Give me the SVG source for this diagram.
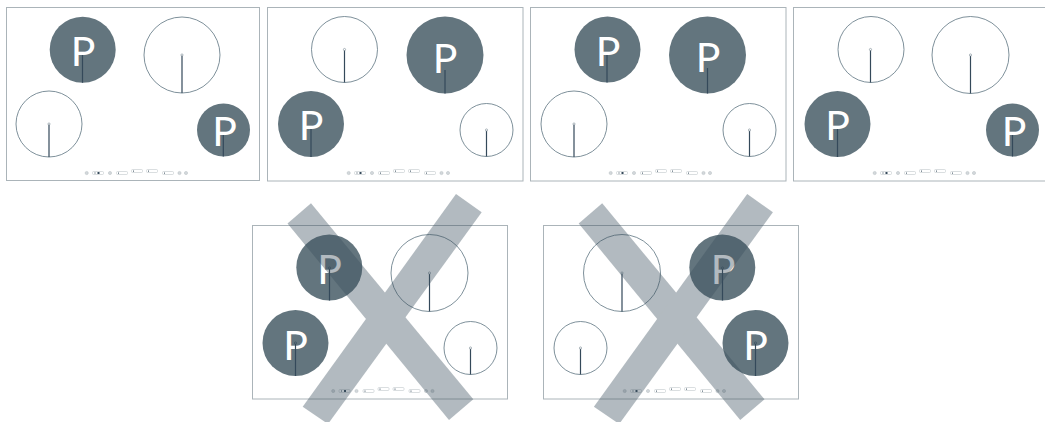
<svg xmlns="http://www.w3.org/2000/svg" xmlns:xlink="http://www.w3.org/1999/xlink" width="1045" height="422" viewBox="0 0 1045 422">
<style>
.frame{fill:#fff;stroke:#abb4b9;stroke-width:1}
.on{fill:#63757e}
.off{fill:#fff;stroke:#5d7480;stroke-width:.8}
.stem{stroke:#34495a;stroke-width:1.2;fill:none}
.hub{fill:#fff;stroke:#7a8a93;stroke-width:.6}
.hubd{fill:#63757e;stroke:#34495a;stroke-width:.6}
.p{fill:#fff;font-family:"Lato","Open Sans",sans-serif;font-weight:400;font-size:41px;text-anchor:middle}
.c{fill:#d3d8db;stroke:#b4bcc1;stroke-width:.5}
.s{fill:#fff;stroke:#b4bcc1;stroke-width:.5}
.d{fill:#34495a}
.x{fill:#3c505e}
</style>
<defs>
<g id="strip">
<circle class="c" cx="86.700" cy="173" r="1.600"/>
<rect class="s" x="92.500" y="171.500" width="11" height="3" rx="1"/><rect class="d" x="94.500" y="172.500" width="1" height="1"/><rect class="d" x="97.500" y="172" width="2" height="2"/>
<circle class="c" cx="110" cy="173" r="1.600"/>
<rect class="s" x="116.500" y="171.500" width="11" height="3" rx="1"/><rect class="d" x="118" y="172.600" width="1" height="1"/>
<rect class="s" x="131.500" y="169.500" width="11" height="3" rx="1"/><rect class="d" x="133" y="170.600" width="1" height="1"/>
<rect class="s" x="146.500" y="169.500" width="11" height="3" rx="1"/><rect class="d" x="148" y="170.600" width="1" height="1"/>
<rect class="s" x="162.500" y="171.500" width="11" height="3" rx="1"/><rect class="d" x="164" y="172.600" width="1" height="1"/>
<circle class="c" cx="179.500" cy="173" r="1.600"/><circle class="c" cx="186" cy="173" r="1.600"/>
</g>
<polygon id="xa" points="287.500,223.500 311,203.300 473.300,399.300 449,420"/>
<polygon id="xb" points="456,194 481.700,212.300 328,424 302.700,406.700"/>
</defs>

<g id="panel-1">
<rect class="frame" x="6.500" y="7.500" width="253" height="173"/>
<circle class="on" cx="82.700" cy="49.700" r="33"/>
<circle class="off" cx="182" cy="55" r="38"/>
<circle class="off" cx="49" cy="124" r="33"/>
<circle class="on" cx="223.500" cy="130" r="26.500"/>
<path class="stem" d="M82.500 54V82.700M182 55V93M49 124V157M223.300 133V156.500"/>
<circle class="hub" cx="182" cy="55" r="1.100"/><circle class="hub" cx="49" cy="124" r="1.100"/>
<text class="p" x="83" y="65.500">P</text><text class="p" x="224.500" y="146">P</text>
<use xlink:href="#strip"/>
</g>

<g id="panel-2">
<rect class="frame" x="267.500" y="7.500" width="255.500" height="173.500"/>
<circle class="off" cx="344.500" cy="49.500" r="33"/>
<circle class="on" cx="445" cy="55" r="38.500"/>
<circle class="on" cx="311" cy="124" r="33"/>
<circle class="off" cx="486.500" cy="130" r="26.500"/>
<path class="stem" d="M344.500 49.500V82.500M445 70V93.500M311 128V157M486.500 130V156.500"/>
<circle class="hub" cx="344.500" cy="49.500" r="1.100"/><circle class="hub" cx="486.500" cy="130" r="1.100"/>
<text class="p" x="445" y="73">P</text><text class="p" x="311" y="140">P</text>
<use xlink:href="#strip" x="262"/>
</g>

<g id="panel-3">
<rect class="frame" x="530.500" y="7.500" width="255.500" height="173.500"/>
<circle class="on" cx="607.500" cy="49.500" r="33"/>
<circle class="on" cx="707.500" cy="55" r="38.500"/>
<circle class="off" cx="574" cy="124" r="33"/>
<circle class="off" cx="749.500" cy="130" r="26.500"/>
<path class="stem" d="M607 54V82.500M707.500 68V93.500M574 124V157M749.500 130V156.500"/>
<circle class="hub" cx="574" cy="124" r="1.100"/><circle class="hub" cx="749.500" cy="130" r="1.100"/>
<text class="p" x="608" y="66">P</text><text class="p" x="708" y="72">P</text>
<use xlink:href="#strip" x="524"/>
</g>

<g id="panel-4">
<rect class="frame" x="793.500" y="7.500" width="255.500" height="173.500"/>
<circle class="off" cx="871" cy="49.500" r="33"/>
<circle class="off" cx="970.500" cy="55" r="38.500"/>
<circle class="on" cx="837.500" cy="124" r="33"/>
<circle class="on" cx="1012.500" cy="130" r="26.500"/>
<path class="stem" d="M870.500 49.500V82.500M970.500 55V93.500M837.500 128V157M1012.500 134V156.500"/>
<circle class="hub" cx="870.500" cy="49.500" r="1.100"/><circle class="hub" cx="970.500" cy="55" r="1.100"/>
<text class="p" x="837.500" y="140">P</text><text class="p" x="1014" y="146">P</text>
<use xlink:href="#strip" x="788"/>
</g>

<g id="panel-5">
<rect class="frame" x="252.500" y="225.500" width="255" height="173.500"/>
<circle class="on" cx="329.300" cy="267.500" r="33"/>
<circle class="off" cx="429.500" cy="273" r="38.500"/>
<circle class="on" cx="295.500" cy="343" r="33"/>
<circle class="off" cx="470.500" cy="348" r="26.500"/>
<text class="p" x="329.500" y="284">P</text><text class="p" x="295.500" y="360">P</text>
<path class="stem" d="M329.500 268V300.500M429.500 273V311.500M295.500 343V376M470.500 348V374.500"/>
<circle class="hubd" cx="329.500" cy="268" r="1.100"/><circle class="hubd" cx="295.500" cy="343" r="1.100"/>
<circle class="hub" cx="429.500" cy="273" r="1.100"/><circle class="hub" cx="470.500" cy="348" r="1.100"/>
<use xlink:href="#strip" x="246.500" y="218"/>
<g class="x" opacity=".39"><use xlink:href="#xa"/><use xlink:href="#xb"/></g>
</g>

<g id="panel-6">
<rect class="frame" x="543.500" y="225.500" width="255" height="173.500"/>
<circle class="off" cx="622" cy="273" r="38.500"/>
<circle class="on" cx="722.300" cy="267.500" r="33"/>
<circle class="off" cx="580.500" cy="348" r="26.500"/>
<circle class="on" cx="755.500" cy="343" r="33"/>
<text class="p" x="723" y="284">P</text><text class="p" x="755.500" y="360">P</text>
<path class="stem" d="M622 273V311.500M722.500 268V300.500M580.500 348V374.500M755.500 343V376"/>
<circle class="hubd" cx="722.500" cy="268" r="1.100"/><circle class="hubd" cx="755.500" cy="343" r="1.100"/>
<circle class="hub" cx="622" cy="273" r="1.100"/><circle class="hub" cx="580.500" cy="348" r="1.100"/>
<use xlink:href="#strip" x="538" y="218"/>
<g class="x" opacity=".39" transform="translate(291.200 0)"><use xlink:href="#xa"/><use xlink:href="#xb"/></g>
</g>
</svg>
